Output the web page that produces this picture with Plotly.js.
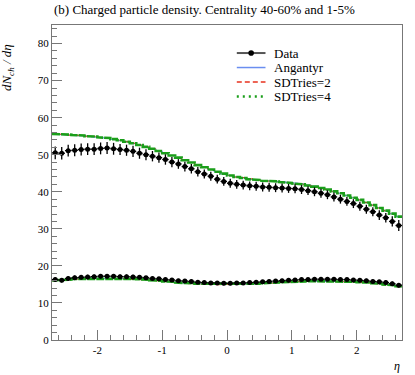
<!DOCTYPE html>
<html>
<head>
<meta charset="utf-8">
<script src="https://cdn.plot.ly/plotly-3.0.1.min.js"></script>
<style>
  html, body { margin: 0; padding: 0; background: #fff; }
  #plot { width: 415px; height: 375px; }
</style>
</head>
<body>
<div id="plot"></div>
<script>
// bin centres in eta, width 0.1
var eta = [-2.65,-2.55,-2.45,-2.35,-2.25,-2.15,-2.05,-1.95,-1.85,-1.75,-1.65,-1.55,-1.45,-1.35,-1.25,-1.15,-1.05,-0.95,-0.85,-0.75,-0.65,-0.55,-0.45,-0.35,-0.25,-0.15,-0.05,
           0.05,0.15,0.25,0.35,0.45,0.55,0.65,0.75,0.85,0.95,1.05,1.15,1.25,1.35,1.45,1.55,1.65,1.75,1.85,1.95,2.05,2.15,2.25,2.35,2.45,2.55,2.65];
var binWidth = 0.1;

// centrality 1-5%
var dataHigh = [50.5,50.4,51.1,51.2,51.4,51.5,51.5,51.7,51.8,51.6,51.4,51.2,50.9,50.4,50.0,49.6,49.2,48.7,48.0,47.5,46.8,46.2,45.4,44.8,44.2,43.4,42.8,
                42.3,42.0,41.8,41.6,41.5,41.3,41.2,41.1,41.0,40.9,40.8,40.6,40.3,40.0,39.6,39.2,38.6,38.0,37.4,36.8,36.1,35.3,34.6,33.7,33.0,32.0,30.9];
var errHigh  = [1.7,1.7,1.6,1.6,1.6,1.6,1.6,1.6,1.6,1.6,1.5,1.5,1.5,1.5,1.5,1.4,1.4,1.4,1.4,1.3,1.3,1.3,1.3,1.2,1.2,1.2,1.2,
                1.2,1.2,1.2,1.2,1.2,1.2,1.2,1.2,1.2,1.2,1.2,1.2,1.2,1.2,1.2,1.2,1.2,1.2,1.2,1.2,1.2,1.2,1.2,1.3,1.3,1.4,1.5];
var angHigh  = [55.5,55.4,55.3,55.2,55.1,55.0,54.8,54.6,54.4,54.1,53.8,53.5,53.0,52.6,52.1,51.6,51.0,50.4,49.8,49.2,48.5,47.9,47.2,46.6,46.0,45.4,44.8,
                44.4,44.0,43.7,43.4,43.2,43.1,42.9,42.8,42.7,42.5,42.3,42.1,41.8,41.5,41.1,40.6,40.1,39.6,39.0,38.4,37.8,37.1,36.4,35.7,34.9,34.1,33.3];
var sd2High  = [55.6,55.5,55.3,55.3,55.2,55.0,54.9,54.7,54.5,54.2,53.9,53.5,53.1,52.6,52.1,51.6,51.0,50.5,49.8,49.2,48.6,47.9,47.3,46.6,46.0,45.4,44.9,
                44.4,44.0,43.8,43.5,43.2,43.0,42.9,42.8,42.6,42.4,42.2,42.0,41.7,41.4,41.0,40.6,40.1,39.6,39.0,38.4,37.8,37.1,36.4,35.6,34.9,34.1,33.3];
var sd4High  = [55.6,55.5,55.4,55.3,55.2,55.0,54.9,54.7,54.5,54.2,53.9,53.5,53.1,52.6,52.1,51.6,51.0,50.4,49.8,49.2,48.5,47.9,47.2,46.6,46.0,45.4,44.9,
                44.4,44.0,43.7,43.4,43.2,43.0,42.9,42.8,42.6,42.4,42.2,42.0,41.7,41.4,41.0,40.6,40.1,39.6,39.0,38.4,37.8,37.1,36.4,35.6,34.9,34.1,33.3];

// centrality 40-60%
var dataLow = [16.3,16.1,16.6,16.8,16.9,17.0,17.1,17.2,17.2,17.2,17.1,17.1,17.0,16.9,16.8,16.6,16.5,16.3,16.2,16.0,15.9,15.8,15.6,15.5,15.4,15.4,15.3,
               15.3,15.4,15.4,15.5,15.6,15.7,15.8,15.9,16.0,16.1,16.2,16.3,16.3,16.4,16.4,16.4,16.4,16.3,16.3,16.2,16.1,16.0,15.8,15.7,15.5,15.2,14.8];
var errLow  = [0.6,0.6,0.6,0.6,0.6,0.6,0.6,0.6,0.6,0.6,0.6,0.6,0.6,0.6,0.5,0.5,0.5,0.5,0.5,0.5,0.5,0.5,0.5,0.5,0.5,0.5,0.5,
               0.5,0.5,0.5,0.5,0.5,0.5,0.5,0.5,0.5,0.5,0.5,0.5,0.5,0.5,0.5,0.5,0.5,0.5,0.5,0.5,0.5,0.5,0.5,0.5,0.6,0.6,0.6];
var angLow  = [16.1,16.2,16.4,16.5,16.6,16.7,16.7,16.7,16.7,16.7,16.6,16.6,16.5,16.4,16.3,16.1,16.0,15.8,15.7,15.6,15.4,15.3,15.2,15.1,15.1,15.0,15.0,
               15.0,15.0,15.1,15.1,15.2,15.3,15.4,15.5,15.6,15.7,15.8,15.8,15.9,15.9,15.9,15.9,15.9,15.9,15.8,15.7,15.6,15.5,15.4,15.2,15.0,14.8,14.5];
var sd2Low  = [16.0,16.1,16.3,16.4,16.5,16.6,16.6,16.7,16.6,16.6,16.6,16.5,16.4,16.3,16.2,16.1,15.9,15.8,15.6,15.5,15.4,15.2,15.1,15.0,15.0,14.9,14.9,
               14.9,15.0,15.0,15.1,15.2,15.2,15.3,15.4,15.5,15.6,15.7,15.8,15.8,15.9,15.9,15.9,15.9,15.8,15.8,15.7,15.6,15.5,15.3,15.1,14.9,14.7,14.4];
var sd4Low  = [16.1,16.2,16.3,16.5,16.6,16.6,16.7,16.7,16.7,16.7,16.6,16.6,16.5,16.4,16.3,16.1,16.0,15.8,15.7,15.5,15.4,15.3,15.2,15.1,15.0,15.0,15.0,
               15.0,15.0,15.1,15.1,15.2,15.3,15.4,15.5,15.6,15.7,15.7,15.8,15.9,15.9,15.9,15.9,15.9,15.9,15.8,15.7,15.6,15.5,15.3,15.2,15.0,14.8,14.5];

var xTicks = [-2, -1, 0, 1, 2];
var xTickText = ['-2', '-1', '0', '1', '2'];
var legendNames = ['Data', 'Angantyr', 'SDTries=2', 'SDTries=4'];

var blue = '#6a8ef0', red = '#e8321e', green = '#1a9e1a';

// histogram outline: each bin drawn flat across its full width
function steps(vals) {
    var xs = [], ys = [];
    for (var i = 0; i < eta.length; i++) {
        xs.push(eta[i] - binWidth / 2, eta[i] + binWidth / 2);
        ys.push(vals[i], vals[i]);
    }
    return {x: xs, y: ys};
}

function histTrace(vals, name, color, width, dash) {
    var s = steps(vals);
    return {
        x: s.x, y: s.y, type: 'scatter', mode: 'lines', name: name,
        line: {color: color, width: width, dash: dash},
        showlegend: false, hoverinfo: 'skip'
    };
}

function dataTrace(vals, errs) {
    return {
        x: eta, y: vals, type: 'scatter', mode: 'markers', showlegend: false,
        marker: {color: '#000', size: 5},
        error_y: {type: 'data', array: errs, color: '#000', thickness: 1.3, width: 0},
        error_x: {type: 'constant', value: binWidth / 2, color: '#000', thickness: 1.3, width: 0}
    };
}

var traces = [
    histTrace(angHigh, 'Angantyr', blue, 1, 'solid'),
    histTrace(sd2High, 'SDTries=2', red, 1, '5px,3px'),
    histTrace(sd4High, 'SDTries=4', green, 2.6, '8px,1px'),
    histTrace(angLow, 'Angantyr', blue, 1, 'solid'),
    histTrace(sd2Low, 'SDTries=2', red, 1, '5px,3px'),
    histTrace(sd4Low, 'SDTries=4', green, 2.6, '8px,1px'),
    dataTrace(dataHigh, errHigh),
    dataTrace(dataLow, errLow)
];

var serif = 'Liberation Serif, DejaVu Serif, serif';
var axisColor = '#777';

// hand-made legend (tighter rows than plotly's own legend allows)
var legStyles = [
    {color: '#555', width: 2, dash: 'solid'},
    {color: blue, width: 1.5, dash: 'solid'},
    {color: red, width: 1.5, dash: '5px,3px'},
    {color: green, width: 2.5, dash: '2px,4px'}
];
var legX0 = 0.528, legX1 = 0.61, legTextX = 0.628, legTop = 0.911, legStep = 0.046;
var shapes = [], legendAnn = [];
legendNames.forEach(function(name, i) {
    var yy = legTop - i * legStep;
    shapes.push({type: 'line', xref: 'paper', yref: 'paper', x0: legX0, x1: legX1, y0: yy, y1: yy,
                 line: legStyles[i]});
    legendAnn.push({text: name, xref: 'paper', yref: 'paper', x: legTextX, y: yy,
                    xanchor: 'left', yanchor: 'middle', showarrow: false,
                    font: {family: serif, size: 13}});
});
shapes.push({type: 'circle', xref: 'paper', yref: 'paper', xsizemode: 'pixel', ysizemode: 'pixel',
             xanchor: (legX0 + legX1) / 2, yanchor: legTop, x0: -2.8, x1: 2.8, y0: -2.8, y1: 2.8,
             fillcolor: '#000', line: {width: 0}});

var layout = {
    width: 415, height: 375,
    margin: {l: 52, r: 13, t: 25, b: 35},
    paper_bgcolor: '#fff', plot_bgcolor: '#fff',
    font: {family: serif, size: 12, color: '#000'},
    showlegend: false,
    xaxis: {
        range: [-2.7, 2.7], showgrid: false, zeroline: false,
        showline: true, linecolor: axisColor, linewidth: 1, mirror: true,
        tickmode: 'array', tickvals: xTicks, ticktext: xTickText,
        ticks: 'inside', ticklen: 10, tickcolor: axisColor, tickwidth: 1,
        tickfont: {family: serif, size: 11},
        minor: {tickmode: 'linear', tick0: 0, dtick: 0.2, ticks: 'inside', ticklen: 5, tickcolor: axisColor, showgrid: false}
    },
    yaxis: {
        range: [0, 85], showgrid: false, zeroline: false,
        showline: true, linecolor: axisColor, linewidth: 1, mirror: true,
        tickmode: 'linear', tick0: 0, dtick: 10,
        ticks: 'inside', ticklen: 10, tickcolor: axisColor, tickwidth: 1,
        tickfont: {family: serif, size: 11},
        minor: {tickmode: 'linear', tick0: 0, dtick: 2, ticks: 'inside', ticklen: 5, tickcolor: axisColor, showgrid: false}
    },
    shapes: shapes,
    annotations: [
        {text: '(b) Charged particle density. Centrality 40-60% and 1-5%',
         xref: 'paper', yref: 'paper', x: 0, y: 1.02, xanchor: 'left', yanchor: 'bottom',
         showarrow: false, font: {family: serif, size: 13}},
        {text: '<i>dN<sub>ch</sub> / dη</i>',
         xref: 'paper', yref: 'paper', x: -0.125, y: 0.945, xanchor: 'center', yanchor: 'top',
         textangle: -90, showarrow: false, font: {family: serif, size: 13}},
        {text: '<i>η</i>',
         xref: 'paper', yref: 'paper', x: 0.985, y: -0.083, xanchor: 'center', yanchor: 'middle',
         showarrow: false, font: {family: serif, size: 12}}
    ].concat(legendAnn)
};

Plotly.newPlot('plot', traces, layout, {displayModeBar: false, staticPlot: true});
</script>
</body>
</html>
